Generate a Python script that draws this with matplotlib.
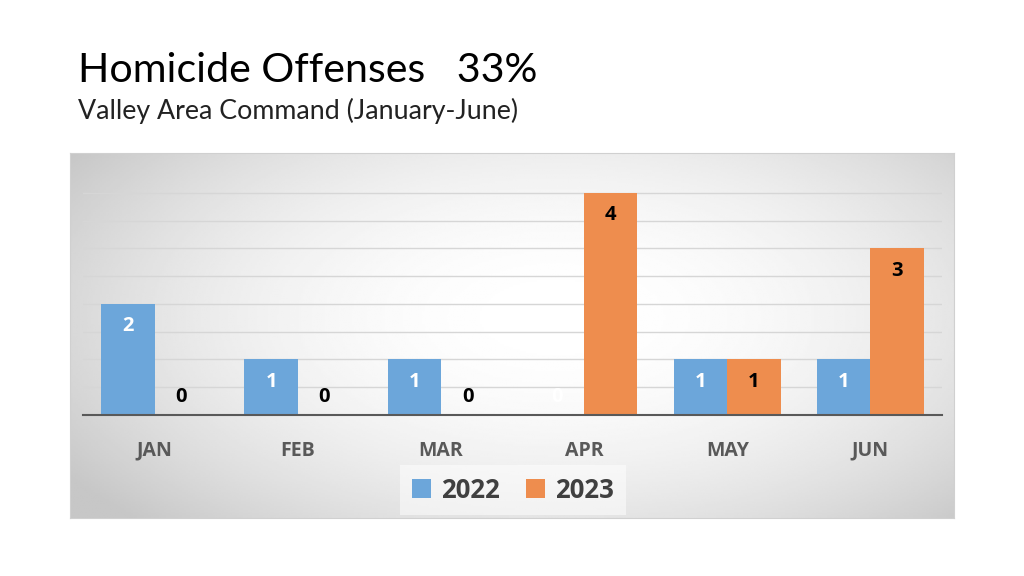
import matplotlib
matplotlib.use("Agg")
import matplotlib.pyplot as plt
import numpy as np

# chart data
months = ["JAN", "FEB", "MAR", "APR", "MAY", "JUN"]
y2022 = [2, 1, 1, 0, 1, 1]
y2023 = [0, 0, 0, 4, 1, 3]
series_names = ["2022", "2023"]

blue = "#6ca6da"
orange = "#ee8d4e"
W, H = 1024, 576
bold_font = "Open Sans"

fig = plt.figure(figsize=(W / 100, H / 100), dpi=100)
fig.patch.set_facecolor("white")

# titles
fig.text(78 / W, 1 - 71 / H, "Homicide Offenses   33%", fontsize=29.6, family="Lato",
         va="center", ha="left", color="black")
fig.text(78 / W, 1 - 111 / H, "Valley Area Command (January-June)", fontsize=19.3,
         family="Lato", va="center", ha="left", color="#222222")

# radial gradient backdrop for the chart area
bg = fig.add_axes([70 / W, 1 - 518 / H, 884 / W, 365 / H])
gx, gy = np.meshgrid(np.linspace(0, 1, 400), np.linspace(0, 1, 200))
r = np.sqrt(((gx - 0.55) / 0.66) ** 2 + ((gy - 0.45) / 0.8) ** 2)
r = np.clip(r, 0, 1) ** 2.0
shade = 1.0 - 0.22 * r
bg.imshow(shade, cmap="gray", vmin=0, vmax=1, aspect="auto", extent=[0, 1, 0, 1])
bg.set_xticks([])
bg.set_yticks([])
for s in bg.spines.values():
    s.set_color("#d0d0d0")
    s.set_linewidth(0.8)

# main bar axes
ax = fig.add_axes([83 / W, 1 - 415 / H, 859 / W, 250 / H])
ax.patch.set_alpha(0)
x = np.arange(len(months))
bw = 0.372
b1 = ax.bar(x - bw / 2, y2022, bw, color=blue, zorder=3)
b2 = ax.bar(x + bw / 2, y2023, bw, color=orange, zorder=3)
ax.set_xlim(-0.5, len(months) - 0.5)
ax.set_ylim(0, 4.5)
ax.set_yticks(np.arange(0.5, 4.01, 0.5))
ax.yaxis.grid(True, color="#d6d6d6", linewidth=1, zorder=0)
ax.tick_params(axis="y", left=False, labelleft=False)
ax.tick_params(axis="x", bottom=False, pad=15)
ax.set_xticks(x)
ax.set_xticklabels(months, fontsize=14, fontweight="bold", color="#595959", family=bold_font)
for side in ["top", "left", "right"]:
    ax.spines[side].set_visible(False)
ax.spines["bottom"].set_color("#595959")
ax.spines["bottom"].set_linewidth(1.5)
ax.spines["bottom"].set_zorder(4)

def label(bars, vals, col_in, col_zero):
    for b, v in zip(bars, vals):
        cx = b.get_x() + b.get_width() / 2
        if v > 0:
            ax.annotate(str(v), (cx, v), xytext=(0, -16), textcoords="offset points",
                        ha="center", va="center", fontsize=14.5, fontweight="bold",
                        color=col_in, family=bold_font, zorder=5)
        else:
            ax.annotate(str(v), (cx, 0), xytext=(0, 13), textcoords="offset points",
                        ha="center", va="center", fontsize=14.5, fontweight="bold",
                        color=col_zero, family=bold_font, zorder=5)

label(b1, y2022, "white", "white")
label(b2, y2023, "black", "black")

leg = fig.legend([b1, b2], series_names, loc="center", bbox_to_anchor=(513 / W, 1 - 490 / H),
                 ncol=2, frameon=True, fancybox=False, handlelength=0.75, handleheight=0.75,
                 handletextpad=0.4, columnspacing=1.0, borderpad=0.45,
                 prop={"family": bold_font, "weight": "bold", "size": 18.5})
leg.get_frame().set_facecolor("white")
leg.get_frame().set_alpha(0.5)
leg.get_frame().set_linewidth(0)
for t in leg.get_texts():
    t.set_color("#404040")

fig.savefig("out.png", dpi=100)
